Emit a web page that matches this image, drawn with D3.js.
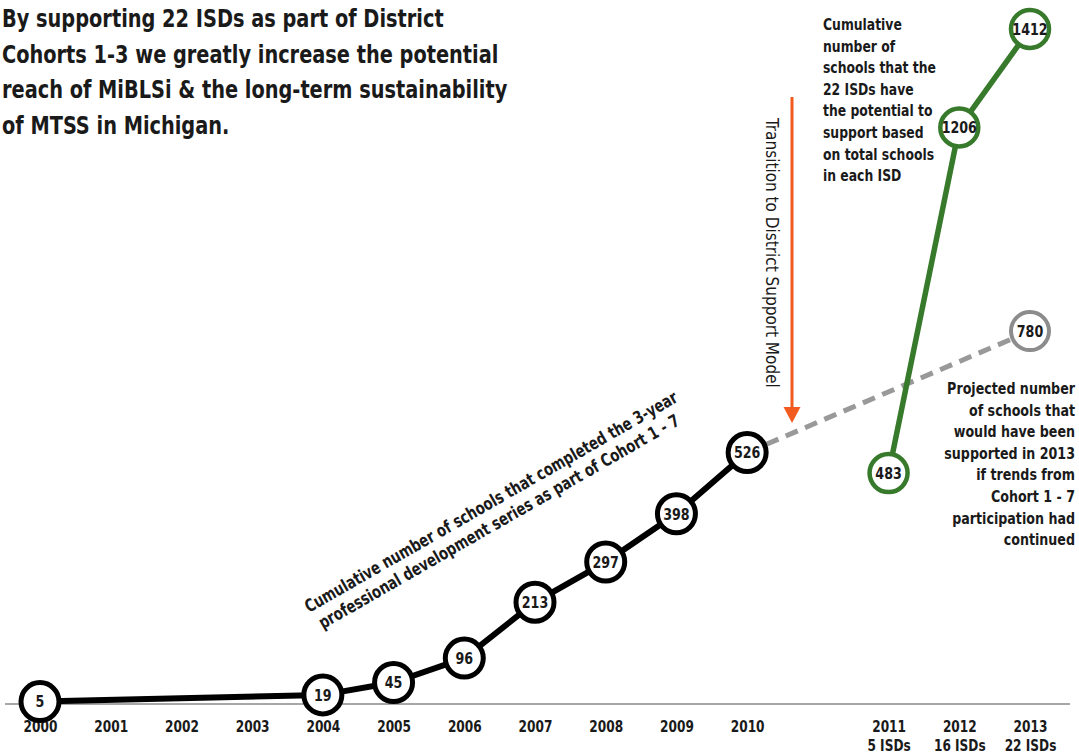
<!DOCTYPE html>
<html>
<head>
<meta charset="utf-8">
<script src="https://cdn.jsdelivr.net/npm/d3@7"></script>
<style>
  html, body { margin: 0; padding: 0; background: #fff; overflow: hidden; }
  svg { display: block; }
  text { font-family: "Liberation Sans Narrow", "Arial Narrow", "DejaVu Sans Condensed", sans-serif; fill: #1a1a1a; }
</style>
</head>
<body>
<script>
// ---- data ----
const slots = ["2000","2001","2002","2003","2004","2005","2006","2007","2008","2009","2010","","2011","2012","2013"];
const tickLabels = ["2000","2001","2002","2003","2004","2005","2006","2007","2008","2009","2010","","2011","2012","2013"];
const tickSubLabels = {"2011":"5 ISDs","2012":"16 ISDs","2013":"22 ISDs"};

const cohortYears = ["2000","2004","2005","2006","2007","2008","2009","2010"];
const cohortValues = [5, 19, 45, 96, 213, 297, 398, 526];

const projectedYears = ["2010","2013"];
const projectedValues = [526, 780];

const isdYears = ["2011","2012","2013"];
const isdValues = [483, 1206, 1412];

const titleLines = [
  "By supporting 22 ISDs as part of District",
  "Cohorts 1-3 we greatly increase the potential",
  "reach of MiBLSi  & the long-term  sustainability",
  "of MTSS in Michigan."
];
const cohortNote = [
  "Cumulative number of schools that completed the 3-year",
  "professional development series as part of Cohort 1 - 7"
];
const transitionNote = "Transition to District Support Model";
const isdNote = ["Cumulative","number of","schools that the","22 ISDs have","the potential to","support based","on total schools","in  each ISD"];
const projNote = ["Projected number","of schools that","would have been","supported in 2013","if trends from","Cohort 1 - 7","participation had","continued"];

// ---- layout ----
const W = 1079, H = 754;
const GREEN = "#387a2b", ORANGE = "#f35a1f", GRAY = "#8c8c8c";

const svg = d3.select("body").append("svg").attr("width", W).attr("height", H);

// horizontally condense a text element (reference uses a narrow typeface)
function condense(sel, factor) {
  sel.each(function () {
    const w = this.getComputedTextLength();
    d3.select(this).attr("textLength", w * factor).attr("lengthAdjust", "spacingAndGlyphs");
  });
  return sel;
}

const x = d3.scalePoint().domain(slots).range([40, 1030]);
const y = d3.scaleLinear().domain([0, 1412]).range([704, 29]);

// axis baseline
svg.append("line")
  .attr("x1", 5).attr("x2", 1070)
  .attr("y1", y(0)).attr("y2", y(0))
  .attr("stroke", "#8a8a8a").attr("stroke-width", 1.5);

// axis tick labels
const axis = d3.axisBottom(x).tickSize(0).tickPadding(0)
  .tickFormat((d, i) => tickLabels[i]);
const gAxis = svg.append("g").attr("transform", `translate(0,${y(0) + 28})`).call(axis);
gAxis.select(".domain").remove();
gAxis.selectAll("text")
  .attr("dy", 0).attr("y", 0)
  .style("font-family", "'Liberation Sans Narrow','Arial Narrow','DejaVu Sans Condensed',sans-serif")
  .style("font-size", "15px").style("font-weight", "bold").attr("fill", "#1a1a1a");
gAxis.selectAll(".tick").filter(d => tickSubLabels[d])
  .append("text")
  .attr("y", 19)
  .attr("text-anchor", "middle")
  .style("font-size", "15px").style("font-weight", "bold").attr("fill", "#1a1a1a")
  .text(d => tickSubLabels[d]);
condense(gAxis.selectAll("text"), 0.9);

// title
svg.append("g").selectAll("text").data(titleLines).join("text")
  .attr("x", 2).attr("y", (d, i) => 27 + i * 35.5)
  .style("font-size", "25px").style("font-weight", "bold")
  .text(d => d)
  .call(condense, 0.86);

// lines
const line = d3.line().x(d => x(d[0])).y(d => y(d[1]));

svg.append("path")
  .datum(projectedYears.map((d, i) => [d, projectedValues[i]]))
  .attr("d", line).attr("fill", "none")
  .attr("stroke", "#999").attr("stroke-width", 5).attr("stroke-dasharray", "13,8");

svg.append("path")
  .datum(cohortYears.map((d, i) => [d, cohortValues[i]]))
  .attr("d", line).attr("fill", "none")
  .attr("stroke", "#000").attr("stroke-width", 6).attr("stroke-linejoin", "round");

svg.append("path")
  .datum(isdYears.map((d, i) => [d, isdValues[i]]))
  .attr("d", line).attr("fill", "none")
  .attr("stroke", GREEN).attr("stroke-width", 5.5);

// markers
function markers(years, values, color, sw) {
  const g = svg.append("g").selectAll("g")
    .data(years.map((d, i) => [d, values[i]]))
    .join("g")
    .attr("transform", d => `translate(${x(d[0])},${y(d[1])})`);
  g.append("circle").attr("r", 19).attr("fill", "#fff")
    .attr("stroke", color).attr("stroke-width", sw);
  g.append("text").attr("text-anchor", "middle").attr("dy", "0.36em")
    .style("font-size", "16px").style("font-weight", "bold").attr("fill", "#1c1c2e")
    .text(d => d[1])
    .call(condense, 0.88);
}
markers([projectedYears[1]], [projectedValues[1]], GRAY, 4);
markers(cohortYears, cohortValues, "#000", 5);
markers(isdYears, isdValues, GREEN, 4.5);

// orange arrow
const ax = 792, ay1 = 97, ay2 = 423;
svg.append("line").attr("x1", ax).attr("x2", ax).attr("y1", ay1).attr("y2", ay2 - 14)
  .attr("stroke", ORANGE).attr("stroke-width", 3);
svg.append("path").attr("d", `M${ax - 8.5},${ay2 - 16} L${ax + 8.5},${ay2 - 16} L${ax},${ay2} Z`).attr("fill", ORANGE);

// transition text (vertical)
svg.append("text")
  .attr("transform", `translate(766,118) rotate(90)`)
  .style("font-size", "17px")
  .text(transitionNote);

// cohort rotated note
const cn = svg.append("g").attr("transform", "translate(309,613) rotate(-29.8)");
cn.selectAll("text").data(cohortNote).join("text")
  .attr("x", (d, i) => i * 4).attr("y", (d, i) => i * 21)
  .style("font-size", "17.5px").style("font-weight", "bold")
  .text(d => d)
  .call(condense, 0.84);

// ISD note
svg.append("g").selectAll("text").data(isdNote).join("text")
  .attr("x", 823).attr("y", (d, i) => 30 + i * 21.6)
  .style("font-size", "16px").style("font-weight", "bold")
  .text(d => d)
  .call(condense, 0.86);

// projected note (right-aligned, condensed via group scale)
svg.append("g").attr("transform", "translate(1075,0) scale(0.88,1)")
  .selectAll("text").data(projNote).join("text")
  .attr("x", 0).attr("y", (d, i) => 394 + i * 21.6)
  .attr("text-anchor", "end")
  .style("font-size", "16px").style("font-weight", "bold")
  .text(d => d);
</script>
</body>
</html>
